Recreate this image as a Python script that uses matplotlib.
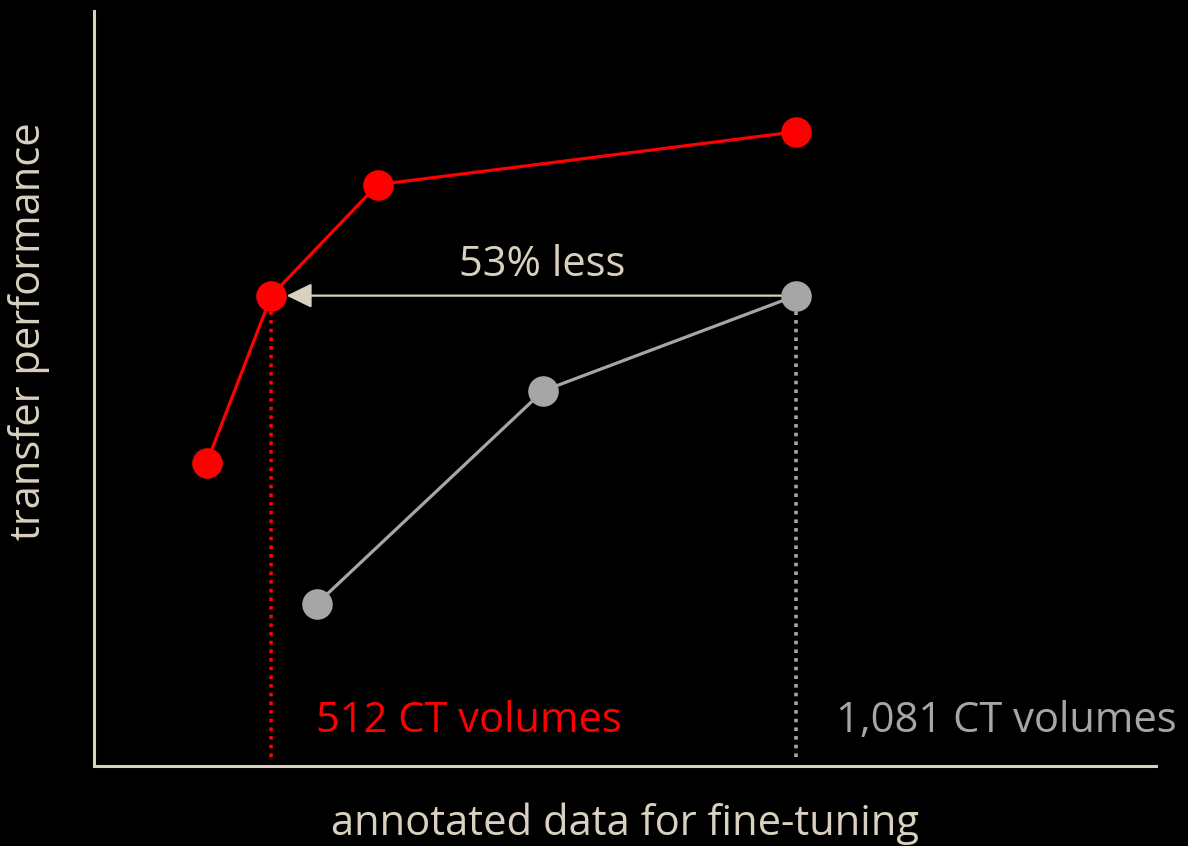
import matplotlib.pyplot as plt

# 读取的数据（任意单位，0-100）
red_x = [10.6, 16.7, 26.7, 66.1]
red_y = [40.1, 62.3, 77.0, 84.0]
gray_x = [21.0, 42.3, 66.1]
gray_y = [21.5, 49.7, 62.3]
red_label = '512 CT volumes'
gray_label = '1,081 CT volumes'
arrow_text = '53% less'
x_label = 'annotated data for fine-tuning'
y_label = 'transfer performance'

RED = '#FF0000'
GRAY = '#A6A6A6'
TAN = '#D9D1BF'

plt.rcParams['font.family'] = ['Open Sans', 'DejaVu Sans']

fig = plt.figure(figsize=(11.88, 8.46), dpi=100, facecolor='black')
ax = fig.add_axes([94 / 1188, 80 / 846, 1062 / 1188, 755 / 846])
ax.set_facecolor('black')
ax.set_xlim(0, 100)
ax.set_ylim(0, 100)

# 坐标轴
for side in ['top', 'right']:
    ax.spines[side].set_visible(False)
for side in ['left', 'bottom']:
    ax.spines[side].set_color(TAN)
    ax.spines[side].set_linewidth(2.2)
ax.set_xticks([])
ax.set_yticks([])

# 虚线
ax.plot([red_x[1], red_x[1]], [1.2, red_y[1] - 1.2], color=RED, lw=2.6,
        linestyle=(0, (1, 1.4)), zorder=1)
ax.plot([gray_x[-1], gray_x[-1]], [1.2, gray_y[-1] - 1.2], color=GRAY, lw=2.6,
        linestyle=(0, (1, 1.4)), zorder=1)

# 两条曲线
ax.plot(gray_x, gray_y, color=GRAY, lw=2.3, marker='o', ms=21, zorder=3)
ax.plot(red_x, red_y, color=RED, lw=2.3, marker='o', ms=21, zorder=3)

# 箭头
ax.annotate('', xy=(red_x[1], red_y[1]), xytext=(gray_x[-1], gray_y[-1]),
            arrowprops=dict(arrowstyle='-|>,head_length=0.55,head_width=0.27',
                            color=TAN, lw=1.6, mutation_scale=28,
                            shrinkA=10, shrinkB=11),
            zorder=2)
ax.text(42.2, red_y[1] + 4.1, arrow_text,
        color=TAN, fontsize=30, ha='center', va='center')

# 标签
ax.text(red_x[1] + 4.2, 6.0, red_label, color=RED, fontsize=30,
        ha='left', va='center')
ax.text(gray_x[-1] + 3.8, 6.0, gray_label, color=GRAY, fontsize=30,
        ha='left', va='center')

ax.set_xlabel(x_label, color=TAN, fontsize=30)
ax.set_ylabel(y_label, color=TAN, fontsize=30)
ax.yaxis.set_label_coords(-0.041, 0.576)
ax.xaxis.set_label_coords(0.5, -0.049)

fig.savefig('out.png', dpi=100, facecolor='black')
